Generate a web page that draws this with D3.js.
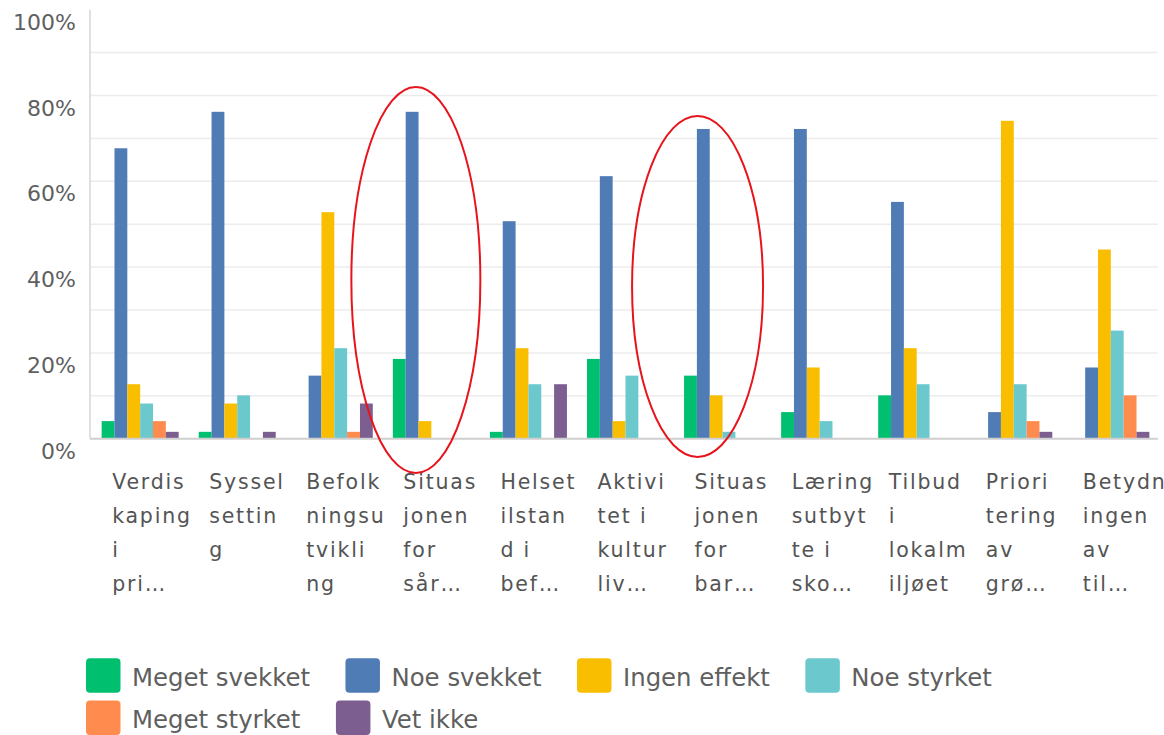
<!DOCTYPE html>
<html><head><meta charset="utf-8">
<script src="https://cdn.jsdelivr.net/npm/d3@7"></script>
<style>body{margin:0;background:#fff;overflow:hidden;} svg{display:block;}</style>
</head><body><svg id="c" width="1164" height="735"></svg>
<script>
// ---- data ----
const categoryLabels = [
  ["Verdis","kaping","i","pri\u2026"],
  ["Syssel","settin","g"],
  ["Befolk","ningsu","tvikli","ng"],
  ["Situas","jonen","for","sår\u2026"],
  ["Helset","ilstan","d i","bef\u2026"],
  ["Aktivi","tet i","kultur","liv\u2026"],
  ["Situas","jonen","for","bar\u2026"],
  ["Læring","sutbyt","te i","sko\u2026"],
  ["Tilbud","i","lokalm","iljøet"],
  ["Priori","tering","av","grø\u2026"],
  ["Betydn","ingen","av","til\u2026"]
];
const seriesNames = ["Meget svekket","Noe svekket","Ingen effekt","Noe styrket","Meget styrket","Vet ikke"];
const seriesColors = ["#00BF6F","#507CB6","#F9BE00","#6BC8CD","#FF8B4F","#7D5E90"];
const megetSvekket = [4.1, 1.6, 0, 18.6, 1.6, 18.6, 14.7, 6.2, 10.1, 0, 0];
const noeSvekket   = [67.7, 76.2, 14.7, 76.2, 50.7, 61.2, 72.2, 72.2, 55.2, 6.2, 16.6];
const ingenEffekt  = [12.7, 8.2, 52.8, 4.1, 21.1, 4.1, 10.1, 16.6, 21.1, 74.1, 44.1];
const noeStyrket   = [8.2, 10.1, 21.1, 0, 12.7, 14.7, 1.6, 4.1, 12.7, 12.7, 25.2];
const megetStyrket = [4.1, 0, 1.6, 0, 0, 0, 0, 0, 0, 4.1, 10.1];
const vetIkke      = [1.6, 1.6, 8.2, 0, 12.7, 0, 0, 0, 0, 1.6, 1.6];
const yTickLabels = [0, 20, 40, 60, 80, 100];
const gridValues = [10,20,30,40,50,60,70,80,90];
// highlighted categories (red ellipses)
const highlighted = [3, 6];

const seriesValues = [megetSvekket, noeSvekket, ingenEffekt, noeStyrket, megetStyrket, vetIkke];

// ---- layout ----
const svg = d3.select("#c");
const plotLeft = 90, plotRight = 1158, plotTop = 9.7, plotBottom = 438.7;
const font = "'DejaVu Sans', sans-serif";

const x0 = d3.scaleBand().domain(d3.range(categoryLabels.length))
  .range([90, 1161]).paddingInner(0.2066).paddingOuter(0.12);
const x1 = d3.scaleBand().domain(d3.range(seriesNames.length)).range([0, x0.bandwidth()]);
const y = d3.scaleLinear().domain([0, 100]).range([plotBottom, plotTop]);

// gridlines
svg.append("g").selectAll("line").data(gridValues).join("line")
  .attr("x1", plotLeft).attr("x2", plotRight)
  .attr("y1", d => y(d)).attr("y2", d => y(d))
  .attr("stroke", "#ececec").attr("stroke-width", 1.5);

// y axis line
svg.append("line").attr("x1", plotLeft).attr("x2", plotLeft).attr("y1", y(100)).attr("y2", y(0))
  .attr("stroke", "#d6d6d6").attr("stroke-width", 1.5);

// y tick labels
svg.append("g").selectAll("text").data(yTickLabels).join("text")
  .attr("x", 76).attr("y", d => y(d) + 20)
  .attr("text-anchor", "end")
  .attr("font-family", font).attr("font-size", 22)
  .attr("fill", "#5f5f5f")
  .text(d => d + "%");

// bars
const groups = svg.append("g").selectAll("g").data(categoryLabels.map((c, i) => i)).join("g")
  .attr("transform", i => `translate(${x0(i)},0)`);
groups.selectAll("rect")
  .data(i => seriesValues.map((vals, s) => ({ s, v: vals[i] })).filter(d => d.v > 0))
  .join("rect")
  .attr("x", d => x1(d.s))
  .attr("width", x1.bandwidth())
  .attr("y", d => y(d.v))
  .attr("height", d => y(0) - y(d.v))
  .attr("fill", d => seriesColors[d.s]);

// baseline
svg.append("line").attr("x1", plotLeft).attr("x2", plotRight).attr("y1", plotBottom).attr("y2", plotBottom)
  .attr("stroke", "#cfcfcf").attr("stroke-width", 2);

// x labels
const xl = svg.append("g").selectAll("text").data(categoryLabels.map((c, i) => i)).join("text")
  .attr("font-family", font).attr("font-size", 20.5).attr("letter-spacing", "1.8px")
  .attr("fill", "#545454")
  .attr("transform", i => `translate(${x0(i) + 10.5},0)`);
xl.selectAll("tspan").data(i => categoryLabels[i]).join("tspan")
  .attr("x", 0).attr("y", (d, k) => 489 + k * 34)
  .text(d => d);

// annotations: red ellipses around highlighted categories
const ellipseSpec = [
  { cat: highlighted[0], dx: 23, cyVal: 37, ryPx: 193, rxPx: 64.5 },
  { cat: highlighted[1], dx: 13.5, cyVal: 35.5, ryPx: 170.5, rxPx: 65.5 }
];
svg.append("g").selectAll("ellipse").data(ellipseSpec).join("ellipse")
  .attr("cx", d => x0(d.cat) + d.dx)
  .attr("cy", d => y(d.cyVal))
  .attr("rx", d => d.rxPx).attr("ry", d => d.ryPx)
  .attr("fill", "none").attr("stroke", "#e8141b").attr("stroke-width", 2);

// legend (flow layout)
const lg = svg.append("g");
let lx = 86, row = 0;
const rowY = [658.3, 700.5], sq = 34.5, maxX = 1130;
seriesNames.forEach((name, i) => {
  const g = lg.append("g");
  const t = g.append("text").attr("font-family", font).attr("font-size", 24.4)
    .attr("fill", "#5f5f5f").text(name);
  const w = t.node().getComputedTextLength();
  if (lx + 46 + w > maxX) { row++; lx = 86; }
  g.append("rect").attr("x", lx).attr("y", rowY[row]).attr("width", sq).attr("height", sq)
    .attr("rx", 4).attr("fill", seriesColors[i]);
  t.attr("x", lx + 46).attr("y", rowY[row] + 27.5);
  lx = lx + 46 + w + 35.5;
});
</script>
</body></html>
